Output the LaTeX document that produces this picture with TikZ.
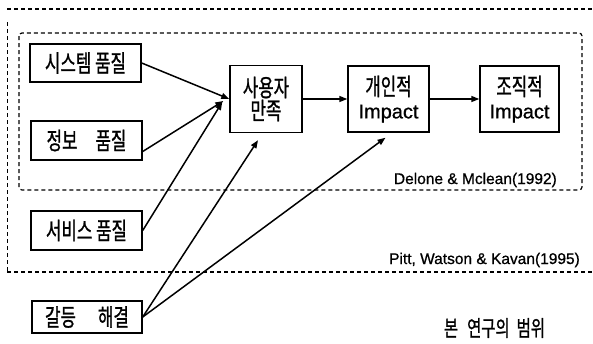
\documentclass[tikz,border=0pt]{standalone}
\usepackage{fontspec}
\setmainfont[FakeBold=0.8]{Liberation Sans}
\newfontfamily\kr[FakeStretch=0.7,FakeBold=1]{Noto Sans CJK KR}
\usetikzlibrary{arrows.meta,calc}
\begin{document}
\begin{tikzpicture}[x=1pt,y=-1pt,
  box/.style={draw,line width=1.4pt,inner sep=0pt,align=center,font=\kr\fontsize{24}{23}\selectfont},
  arr/.style={line width=1.5pt,-{Triangle[length=8pt,width=6pt]}},
  dsh/.style={line width=1.2pt,dash pattern=on 4pt off 3pt},
  lbl/.style={inner sep=0pt,font=\fontsize{15.5}{18}\selectfont}]
\useasboundingbox (0,0) rectangle (593,343);
\fill[white] (0,0) rectangle (593,343);
% outer scope (Pitt, Watson & Kavan)
\draw[dsh] (7,9) -- (593,9);
\draw[dsh,line width=0.8pt] (7,22) -- (7,272);
\draw[dsh] (7,272) -- (593,272);
% inner scope (Delone & Mclean)
\draw[dsh,rounded corners=3pt] (19,33) rectangle (582,190);
% boxes
\node[box,minimum width=111pt,minimum height=38pt] (sys) at (85.5,63) {시스템 품질};
\node[box,minimum width=111pt,minimum height=39pt] (info) at (86.5,140.5) {정보\hspace{18pt}품질};
\node[box,minimum width=111pt,minimum height=39pt] (svc) at (86.5,230.5) {서비스 품질};
\node[box,minimum width=110pt,minimum height=32pt] (conf) at (87,317) {갈등\hspace{22pt}해결};
\node[box,minimum width=72pt,minimum height=67pt] (sa) at (266,99) {사용자\\만족};
\node[box,minimum width=81pt,minimum height=66pt,font=\fontsize{20}{23}\selectfont] (ind) at (388.5,99) {{\kr\fontsize{24}{23}\selectfont 개인적}\\Impact};
\node[box,minimum width=79pt,minimum height=66pt,font=\fontsize{20}{23}\selectfont] (org) at (519.5,99) {{\kr\fontsize{24}{23}\selectfont 조직적}\\Impact};
% labels
\node[lbl,anchor=base east] (dl) at (557,184) {Delone \& Mclean(1992)};
\node[lbl,anchor=base east] (pw) at (580,264) {Pitt, Watson \& Kavan(1995)};
\node[inner sep=0pt,font=\kr\fontsize{22}{22}\selectfont] (scope) at (494.5,328) {본\hspace{9pt}연구의\hspace{7pt}범위};
% connectors
\draw[arr] (sys.east) -- (sa.west);
\draw[arr] ($(info.east)+(0,11)$) -- ($(sa.west)+(-6,2)$);
\draw[arr] (svc.east) -- ($(sa.west)+(-7,3)$);
\draw[arr] (conf.east) -- ($(sa.south)+(-8,7)$);
\draw[arr] (conf.east) -- ($(ind.south)+(-3,5)$);
\draw[arr] (sa.east) -- (ind.west);
\draw[arr] (ind.east) -- (org.west);
\end{tikzpicture}
\end{document}
